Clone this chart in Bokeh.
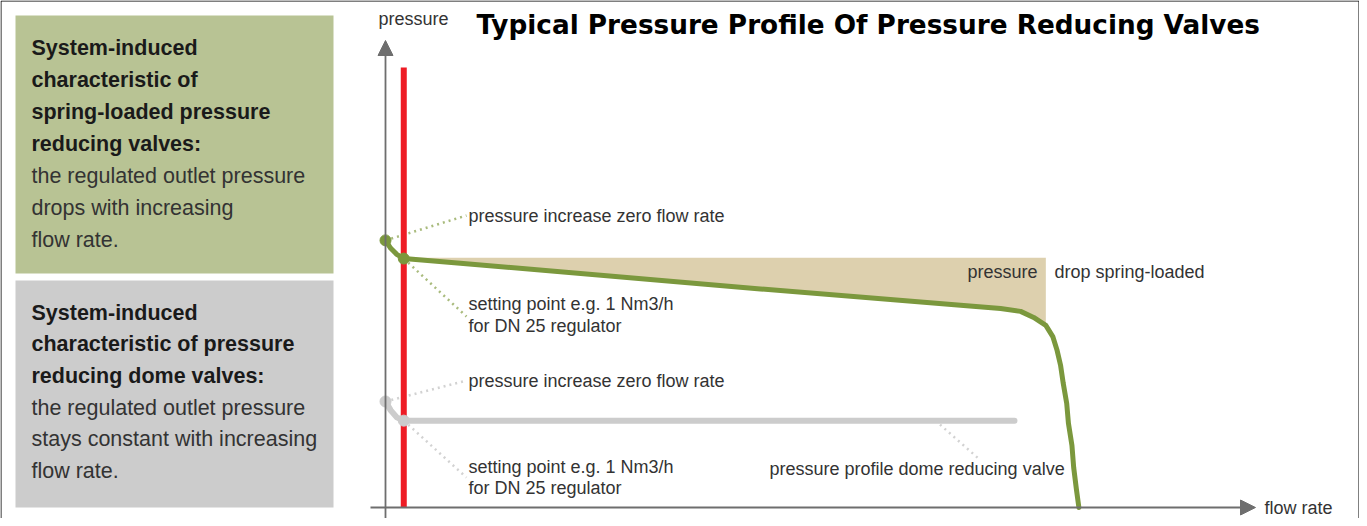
from bokeh.plotting import figure
from bokeh.models import Range1d, Arrow, NormalHead
from bokeh.core.properties import value
from bokeh.embed import file_html
from bokeh.resources import INLINE

# ---------------- data (schematic values) ----------------
# spring-loaded valve characteristic: flow rate vs. outlet pressure
flow_spring = [0.0, 0.6, 1.3, 2.1, 8.6, 43.1, 66.1, 70.7, 73.0, 74.5, 75.9,
               76.7, 77.2, 77.6, 77.9, 78.3, 78.5, 78.9, 79.1, 79.4, 79.7]
pressure_spring = [57.2, 55.5, 54.2, 53.3, 52.3, 46.8, 43.3, 42.6, 42.0, 40.7, 39.0,
                   36.6, 33.6, 30.4, 26.6, 22.3, 18.0, 13.3, 8.6, 4.1, 0.0]
# dome valve characteristic
flow_dome = [0.0, 0.6, 1.3, 2.1, 72.3]
pressure_dome = [22.7, 20.8, 19.3, 18.6, 18.6]
# setting point (red line) and pressure-drop band
setting_flow = 2.1
red_line_top = 94.2
shade_top = 53.5
shade_end_flow = 75.9

# ---------------- layout helpers (picture pixel -> data) ----------------
W, H = 1359, 518
OX, OY = 385.0, 507.0          # pixel position of the origin
SX, SY = 8.7, 4.67             # pixels per data unit

def xd(X):
    return (X - OX) / SX

def yd(Y):
    return (OY - Y) / SY

p = figure(width=W, height=H, output_backend="svg", toolbar_location=None,
           x_range=Range1d(xd(0), xd(W)), y_range=Range1d(yd(H), yd(0)),
           min_border=0, outline_line_color=None,
           x_axis_location=None, y_axis_location=None)
p.xgrid.visible = False
p.ygrid.visible = False
p.background_fill_color = "white"

FONT = "Liberation Sans"

def txt(X, Y, s, size="18px", bold=False, color="#333333", align="left", font=FONT):
    p.text(x=[xd(X)], y=[yd(Y)], text=[s], text_font=value(font),
           text_font_size=value(size), text_font_style="bold" if bold else "normal",
           text_color=color, text_align=align, text_baseline="middle")

# outer frame
p.quad(left=[xd(0.5)], right=[xd(1358.5)], top=[yd(0.5)], bottom=[yd(540)],
       fill_color=None, line_color="#000000", line_width=1)

# left panels
p.quad(left=[xd(15)], right=[xd(333)], top=[yd(15)], bottom=[yd(273)],
       fill_color="#b8c394", line_color=None)
p.quad(left=[xd(15)], right=[xd(333)], top=[yd(280)], bottom=[yd(507)],
       fill_color="#cccccc", line_color=None)

green_bold = ["System-induced", "characteristic of", "spring-loaded pressure", "reducing valves:"]
green_reg = ["the regulated outlet pressure", "drops with increasing", "flow rate."]
gray_bold = ["System-induced", "characteristic of pressure", "reducing dome valves:"]
gray_reg = ["the regulated outlet pressure", "stays constant with increasing", "flow rate."]

for i, s in enumerate(green_bold + green_reg):
    bold = i < len(green_bold)
    txt(31, 47 + i * 32.0, s, size="21.5px", bold=bold, color="#1a1a1a" if bold else "#333333")
for i, s in enumerate(gray_bold + gray_reg):
    bold = i < len(gray_bold)
    txt(31, 312 + i * 31.7, s, size="21.5px", bold=bold, color="#1a1a1a" if bold else "#333333")

# pressure-drop band
i0 = flow_spring.index(setting_flow)
i1 = flow_spring.index(shade_end_flow)
p.varea(x=flow_spring[i0:i1 + 1], y1=pressure_spring[i0:i1 + 1],
        y2=[shade_top] * (i1 - i0 + 1), fill_color="#ddd0ae")

# dotted leader lines
GL = "#a9bb7d"
DL = "#d2d2d2"
p.line([flow_spring[0], xd(466)], [pressure_spring[0], yd(215)], line_color=GL, line_width=2.5, line_dash="2 4")
p.line([setting_flow, xd(466)], [pressure_spring[i0], yd(316)], line_color=GL, line_width=2.5, line_dash="2 4")
p.line([flow_dome[0], xd(466)], [pressure_dome[0], yd(380)], line_color=DL, line_width=2.5, line_dash="2 4")
p.line([setting_flow, xd(466)], [pressure_dome[3], yd(477)], line_color=DL, line_width=2.5, line_dash="2 4")
p.line([xd(935), xd(978)], [pressure_dome[-1], yd(458)], line_color=DL, line_width=2.5, line_dash="2 4")

# axes with arrows
AX = "#6e6e6e"
p.add_layout(Arrow(end=NormalHead(size=15, fill_color=AX, line_color=AX),
                   x_start=0, y_start=yd(522), x_end=0, y_end=yd(40),
                   line_color=AX, line_width=1.8))
p.add_layout(Arrow(end=NormalHead(size=15, fill_color=AX, line_color=AX),
                   x_start=xd(370), y_start=0, x_end=xd(1255), y_end=0,
                   line_color=AX, line_width=1.8))

# setting point red line
p.line([setting_flow, setting_flow], [0, red_line_top], line_color="#ee1c25", line_width=6)

# characteristic curves
GREEN = "#7b983d"
GRAY = "#cccccc"
p.line(flow_dome, pressure_dome, line_color=GRAY, line_width=6, line_join="round", line_cap="round")
p.line(flow_spring, pressure_spring, line_color=GREEN, line_width=5, line_join="round", line_cap="round")
p.scatter([flow_spring[0], setting_flow], [pressure_spring[0], pressure_spring[i0]],
          size=11, fill_color=GREEN, line_color=GREEN)
p.scatter([flow_dome[0], setting_flow], [pressure_dome[0], pressure_dome[3]],
          size=11, fill_color=GRAY, line_color=GRAY)

# texts
txt(378, 18, "pressure")
txt(476, 24, "Typical Pressure Profile Of Pressure Reducing Valves", size="26.3px", bold=True,
    color="#000000", font="DejaVu Sans")
txt(468, 215, "pressure increase zero flow rate")
txt(468, 303, "setting point e.g. 1 Nm3/h")
txt(468, 325, "for DN 25 regulator")
txt(1037, 271, "pressure", align="right")
txt(1054, 271, "drop spring-loaded")
txt(468, 380, "pressure increase zero flow rate")
txt(468, 466, "setting point e.g. 1 Nm3/h")
txt(468, 487, "for DN 25 regulator")
txt(769, 468, "pressure profile dome reducing valve")
txt(1264, 507, "flow rate")

open("out.html", "w").write(file_html(p, INLINE))
